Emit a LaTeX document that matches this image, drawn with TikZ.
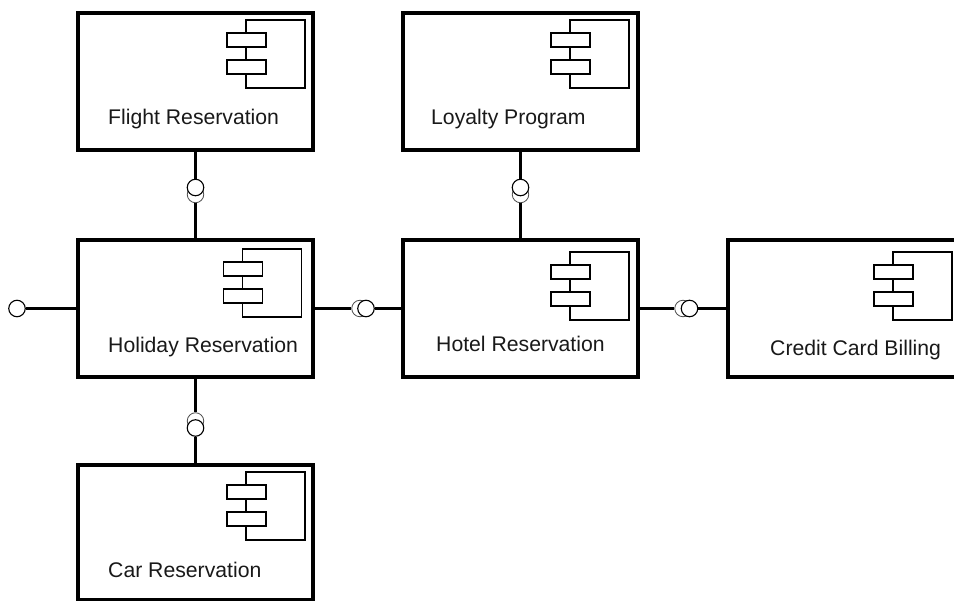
\documentclass[tikz,border=0pt]{standalone}
\usepackage{fontspec}
\setmainfont{Liberation Sans}
\tikzset{
	compbox/.style={draw, line width=4pt, fill=white, minimum width=235pt, minimum height=137pt, inner sep=0pt},
	complabel/.style={anchor=base west, inner sep=0pt, font=\fontsize{21.2}{25}\selectfont, text=black!90},
	wire/.style={line width=3.8pt},
	icon/.style={draw, line width=1.8pt, fill=white},
	ball/.style={draw, circle, line width=1.1pt, fill=white, minimum size=16.5pt, inner sep=0pt},
	socket/.style={draw=black!70, circle, line width=0.8pt, fill=white, minimum size=16.5pt, inner sep=0pt}
}
\begin{document}
\begin{tikzpicture}[x=1pt, y=-1pt]
	\useasboundingbox (0,0) rectangle (954,601);
	\clip (0,0) rectangle (954,601);

	\node[compbox] (flight) at (195.5, 81.5) {};
	\node[compbox] (loyalty) at (520.5, 81.5) {};
	\node[compbox] (holiday) at (195.5, 308.5) {};
	\node[compbox] (hotel) at (520.5, 308.5) {};
	\node[compbox] (credit) at (845.5, 308.5) {};
	\node[compbox, minimum height=135pt] (car) at (195.5, 532.5) {};

	\node[complabel] (flightlabel) at (108, 125) {Flight Reservation};
	\node[complabel] (loyaltylabel) at (431, 125) {Loyalty Program};
	\node[complabel] (holidaylabel) at (108, 353) {Holiday Reservation};
	\node[complabel] (hotellabel) at (436, 352) {Hotel Reservation};
	\node[complabel] (creditlabel) at (770, 355.5) {Credit Card Billing};
	\node[complabel] (carlabel) at (108, 577) {Car Reservation};

	% component icons
	\foreach \ix/\iy in {246/20, 570/20, 242.5/249, 570/252, 893/252, 246/472} {
		\draw[icon] (\ix, \iy) rectangle ++(59, 68);
		\draw[icon] (\ix-19, \iy+13) rectangle ++(39, 14);
		\draw[icon] (\ix-19, \iy+40) rectangle ++(39, 14);
	}

	% sockets
	\node[socket] (flightsock) at (195.5, 194.5) {};
	\node[socket] (loyaltysock) at (520.5, 194.5) {};
	\node[socket] (hotelsock) at (360, 308.5) {};
	\node[socket] (creditsock) at (683, 308.5) {};
	\node[socket] (carsock) at (195.5, 421) {};

	% balls
	\node[ball] (flightball) at (195.5, 187.5) {};
	\node[ball] (loyaltyball) at (520.5, 187.5) {};
	\node[ball] (hotelball) at (366, 308.5) {};
	\node[ball] (creditball) at (689.5, 308.5) {};
	\node[ball] (carball) at (195.5, 428) {};
	\node[ball] (holidayball) at (17, 308.5) {};

	\draw[wire] (flight) -- (flightball);
	\draw[wire] (holiday) -- (flightsock);
	\draw[wire] (loyalty) -- (loyaltyball);
	\draw[wire] (hotel) -- (loyaltysock);
	\draw[wire] (holiday) -- (hotelsock);
	\draw[wire] (hotel) -- (hotelball);
	\draw[wire] (hotel) -- (creditsock);
	\draw[wire] (credit) -- (creditball);
	\draw[wire] (holiday) -- (carsock);
	\draw[wire] (car) -- (carball);
	\draw[wire] (holiday) -- (holidayball);
\end{tikzpicture}
\end{document}
